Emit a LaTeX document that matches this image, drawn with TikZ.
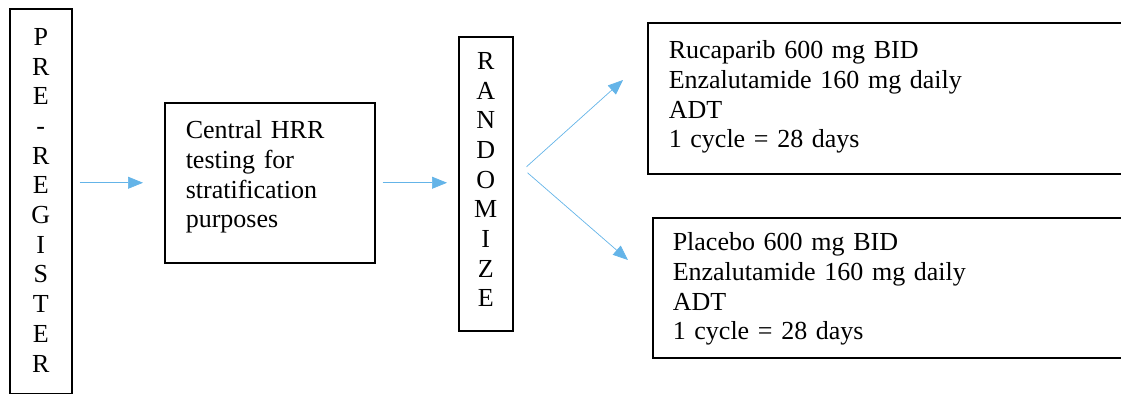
\documentclass[tikz,border=0pt]{standalone}
\usepackage{fontspec}
\setmainfont{Liberation Serif}
\usetikzlibrary{arrows.meta}
\definecolor{flowblue}{RGB}{100,180,232}

\begin{document}
\begin{tikzpicture}[x=1pt, y=-1pt,
    every node/.style={font=\fontsize{26}{29.7}\selectfont},
    box/.style={draw, line width=1.5pt, anchor=north west, inner ysep=0pt,
        inner xsep=21pt, align=left},
    letters/.style={box, inner xsep=4pt, align=center},
    flow/.style={-{Triangle[length=15pt,width=12pt]}, flowblue, line width=0.7pt}]
    \useasboundingbox (0,0) rectangle (1121,394);

    \node[letters, text width=54pt, text height=36.6pt, text depth=348pt] (pre) at (9,8)
        {P\\R\\E\\-\\R\\E\\G\\I\\S\\T\\E\\R};
    \node[box, text width=168pt, text height=36pt, text depth=124pt] (central) at (164,102)
        {Central HRR\\testing for\\stratification\\purposes};
    \node[letters, text width=46pt, text height=32.6pt, text depth=261.4pt] (rand) at (458,36)
        {R\\A\\N\\D\\O\\M\\I\\Z\\E};
    \node[box, text width=451pt, text height=36pt, text depth=115pt] (armA) at (647,22)
        {Rucaparib 600 mg BID\\Enzalutamide 160 mg daily\\ADT\\1 cycle = 28 days};
    \node[box, inner xsep=20pt, text width=448pt, text height=33pt, text depth=107pt] (armB) at (652,217)
        {Placebo 600 mg BID\\Enzalutamide 160 mg daily\\ADT\\1 cycle = 28 days};

    \draw[flow, shorten <=7pt, shorten >=21pt] (central.west -| pre.east) -- (central.west);
    \draw[flow, shorten <=7pt, shorten >=11pt] (central.east) -- (central.east -| rand.west);
    \draw[flow] ([shift={(13,-17)}]rand.east) -- ([shift={(-24,58)}]armA.north west);
    \draw[flow] ([shift={(14,-11)}]rand.east) -- ([shift={(-24,43)}]armB.north west);

\end{tikzpicture}
\end{document}
